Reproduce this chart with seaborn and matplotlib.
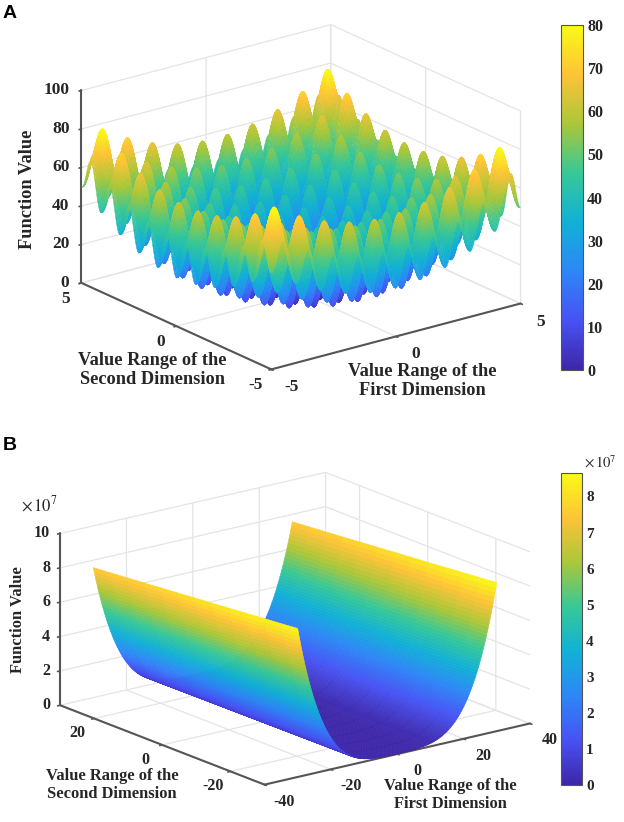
import numpy as np
import matplotlib
matplotlib.use("Agg")
import matplotlib.pyplot as plt
import seaborn as sns
from matplotlib.cm import ScalarMappable
from matplotlib.colors import Normalize
from mpl_toolkits.mplot3d import proj3d

DPI = 100
W, H = 624, 822

# ------------------------------
# panel A: bowl profile along one dimension, x = 0, 0.05, ... 5 (mirrored for x < 0)
A_PROFILE = [
    0, 0.49, 1.92, 4.14, 6.95, 10.06, 13.18, 16.00, 18.25, 19.71,
    20.25, 19.81, 18.45, 16.30, 13.58, 10.56, 7.55, 4.84, 2.72, 1.39,
    1, 1.59, 3.12, 5.44, 8.35, 11.56, 14.78, 17.70, 20.05, 21.61,
    22.25, 21.91, 20.65, 18.60, 15.98, 13.06, 10.15, 7.54, 5.52, 4.29,
    4, 4.69, 6.32, 8.74, 11.75, 15.06, 18.38, 21.40, 23.85, 25.51,
    26.25, 26.01, 24.85, 22.90, 20.38, 17.56, 14.75, 12.24, 10.32, 9.19,
    9, 9.79, 11.52, 14.04, 17.15, 20.56, 23.98, 27.10, 29.65, 31.41,
    32.25, 32.11, 31.05, 29.20, 26.78, 24.06, 21.35, 18.94, 17.12, 16.09,
    16, 16.89, 18.72, 21.34, 24.55, 28.06, 31.58, 34.80, 37.45, 39.31,
    40.25, 40.21, 39.25, 37.50, 35.18, 32.56, 29.95, 27.64, 25.92, 24.99,
    25,
]
A_X_TICKS = [-5, 0, 5]
A_Y_TICKS = [-5, 0, 5]
A_Z_TICKS = [0, 20, 40, 60, 80, 100]
A_CBAR_TICKS = [0, 10, 20, 30, 40, 50, 60, 70, 80]

# panel B: trough height (x 1e7) at the front edge, mirrored for x < 0
# x = 0, 0.5, ... 9.5
B_PROFILE_LOW = [
    0.009, 0.009, 0.010, 0.010, 0.012, 0.013, 0.015, 0.018, 0.021, 0.025,
    0.030, 0.036, 0.044, 0.052, 0.062, 0.074, 0.088, 0.105, 0.123, 0.145,
]
# x = 10, 10.25, ... 30
B_PROFILE_HIGH = [
    0.169, 0.182, 0.197, 0.212, 0.228, 0.245, 0.263, 0.283, 0.303, 0.324,
    0.347, 0.371, 0.396, 0.423, 0.451, 0.480, 0.511, 0.543, 0.577, 0.613,
    0.650, 0.689, 0.730, 0.773, 0.818, 0.865, 0.914, 0.965, 1.018, 1.073,
    1.131, 1.191, 1.253, 1.318, 1.386, 1.456, 1.529, 1.605, 1.683, 1.765,
    1.849, 1.937, 2.027, 2.121, 2.218, 2.319, 2.423, 2.531, 2.642, 2.757,
    2.876, 2.998, 3.125, 3.255, 3.390, 3.529, 3.672, 3.820, 3.972, 4.129,
    4.290, 4.456, 4.627, 4.803, 4.984, 5.171, 5.362, 5.559, 5.761, 5.969,
    6.182, 6.401, 6.626, 6.857, 7.094, 7.337, 7.586, 7.842, 8.105, 8.373,
    8.649,
]
# how far the trough height drops going back, y = -30, -25, ... 30
B_Y_VALUES = [-30, -25, -20, -15, -10, -5, 0, 5, 10, 15, 20, 25, 30]
B_TILT = [1.0, 0.989, 0.979, 0.968, 0.957, 0.947, 0.937, 0.926, 0.916, 0.905, 0.895, 0.885, 0.875]
B_X_TICKS = [-40, -20, 0, 20, 40]
B_Y_TICKS = [-20, 0, 20]
B_Z_TICKS = [0, 2, 4, 6, 8, 10]
B_CBAR_TICKS = [0, 1, 2, 3, 4, 5, 6, 7, 8]

PARULA = ["#3e26a8", "#4752f4", "#2d87f7", "#11b1d6", "#37c897", "#abc739", "#fec338", "#f9fb15"]
AXIS_GREY = "#555555"
GRID_GREY = "#e4e4e4"
TEXT = "#262626"
SERIF = "Liberation Serif"

sns.set_theme(style="white")
plt.rcParams["font.family"] = [SERIF, "DejaVu Serif"]
plt.rcParams["mathtext.fontset"] = "stix"
cmap = sns.blend_palette(PARULA, n_colors=256, as_cmap=True)


def fig_text(fig, px, py, s, **kw):
    kw.setdefault("ha", "center")
    kw.setdefault("va", "center")
    kw.setdefault("color", TEXT)
    kw.setdefault("fontweight", "bold")
    fig.text(px / W, 1 - py / H, s, **kw)


def add_scene(fig, size, center, elev, azim, box):
    # square 3d axes; the view centre sits 0.5135 of the way across them
    left = center[0] - 0.5135 * size
    bottom = H - (center[1] + 0.5135 * size)
    ax = fig.add_axes([left / W, bottom / H, size / W, size / H], projection="3d", proj_type="ortho")
    ax.view_init(elev=elev, azim=azim)
    ax.set_box_aspect(box)
    ax.patch.set_alpha(0)
    return ax


def style_axes(ax, xlim, ylim, zlim, xticks, yticks, zticks):
    ax.set_xlim(*xlim)
    ax.set_ylim(*ylim)
    ax.set_zlim(*zlim)
    ax.set_xticks(xticks)
    ax.set_yticks(yticks)
    ax.set_zticks(zticks)
    ax.set_xticklabels([])
    ax.set_yticklabels([])
    ax.set_zticklabels([])
    for axis in (ax.xaxis, ax.yaxis, ax.zaxis):
        axis.set_pane_color((1, 1, 1, 1))
        axis.pane.set_edgecolor("none")
        axis.line.set_color(AXIS_GREY)
        axis.line.set_linewidth(1.5)
        axis._axinfo["grid"].update(color=GRID_GREY, linewidth=0.9)
        axis._axinfo["tick"].update(inward_factor=0.12, outward_factor=0.0, linewidth={True: 1.2, False: 0.5})
    ax.tick_params(colors=AXIS_GREY)


def tick_labels(ax, points, labels, dx, dy, size, ha="center"):
    proj = ax.get_proj()
    for (x, y, z), label in zip(points, labels):
        xp, yp, _ = proj3d.proj_transform(x, y, z, proj)
        ax.annotate(str(label), (xp, yp), xytext=(dx, dy), textcoords="offset pixels",
                    ha=ha, va="center", fontsize=size, fontweight="bold", color=TEXT,
                    annotation_clip=False)


def add_colorbar(fig, px_left, px_top, px_w, px_h, vmax, ticks, size, pad):
    cax = fig.add_axes([px_left / W, 1 - (px_top + px_h) / H, px_w / W, px_h / H])
    cb = fig.colorbar(ScalarMappable(Normalize(0, vmax), cmap), cax=cax)
    cb.set_ticks(ticks)
    cb.ax.tick_params(direction="in", length=2, width=0.7, color=AXIS_GREY, pad=pad,
                      labelsize=size, labelcolor=TEXT)
    for label in cb.ax.get_yticklabels():
        label.set_fontweight("bold")
    cb.outline.set_edgecolor(AXIS_GREY)
    cb.outline.set_linewidth(0.8)
    return cb


fig = plt.figure(figsize=(W / DPI, H / DPI), dpi=DPI)

# ---- panel A
half_a = np.array(A_PROFILE)
prof_a = np.concatenate([half_a[:0:-1], half_a])
grid_a = np.arange(-100, 101) / 20
xa, ya = np.meshgrid(grid_a, grid_a)
za = np.add.outer(prof_a, prof_a)

ax_a = add_scene(fig, 474, (301, 197), 20.3, -127.3, (313, 313, 205))
surf_a = ax_a.plot_surface(xa, ya, za, cmap=cmap, vmin=0, vmax=80, rstride=1, cstride=1,
                           linewidth=0.3, antialiased=True, shade=False)
surf_a.set_edgecolor("face")
style_axes(ax_a, (-5, 5), (-5, 5), (0, 100), A_X_TICKS, A_Y_TICKS, A_Z_TICKS)
tick_labels(ax_a, [(v, -5, 0) for v in A_X_TICKS], A_X_TICKS, 20, -18, 12.5)
tick_labels(ax_a, [(-5, v, 0) for v in A_Y_TICKS], A_Y_TICKS, -16, -16, 12.5)
tick_labels(ax_a, [(-5, 5, v) for v in A_Z_TICKS], A_Z_TICKS, -12, 0, 12.5, ha="right")

add_colorbar(fig, 561, 25, 22, 345, 80, A_CBAR_TICKS, 11.5, 3)
fig_text(fig, 152, 370, "Value Range of the\nSecond Dimension", fontsize=13.2, linespacing=1.16)
fig_text(fig, 422, 381, "Value Range of the\nFirst Dimension", fontsize=13.2, linespacing=1.16)
fig_text(fig, 28, 189, "Function Value", fontsize=13.2, rotation=90)
fig_text(fig, 10, 14, "A", fontsize=14, family="Liberation Sans", color="black")

# ---- panel B
half_b = np.array(B_PROFILE_LOW + B_PROFILE_HIGH)
prof_b = np.concatenate([half_b[:0:-1], half_b])
half_x = np.concatenate([np.arange(20) / 2, 10 + np.arange(81) / 4])
grid_b = np.concatenate([-half_x[:0:-1], half_x])
xb, yb = np.meshgrid(grid_b, np.array(B_Y_VALUES))
zb = np.outer(B_TILT, prof_b)

ax_b = add_scene(fig, 492, (295, 628.5), 17.4, -127.6, (335, 335, 180))
surf_b = ax_b.plot_surface(xb, yb, zb, cmap=cmap, vmin=0, vmax=8.65, rstride=1, cstride=1,
                           linewidth=0.4, antialiased=True, shade=False)
surf_b.set_edgecolor("face")
style_axes(ax_b, (-40, 40), (-30, 30), (0, 10), B_X_TICKS, B_Y_TICKS, B_Z_TICKS)
tick_labels(ax_b, [(v, -30, 0) for v in B_X_TICKS], B_X_TICKS, 20, -17, 11.5)
tick_labels(ax_b, [(-40, v, 0) for v in B_Y_TICKS], B_Y_TICKS, -17, -15, 11.5)
tick_labels(ax_b, [(-40, 30, v) for v in B_Z_TICKS], B_Z_TICKS, -10, 0, 11.5, ha="right")

add_colorbar(fig, 561, 473, 21, 312, 8.65, B_CBAR_TICKS, 11, 3)
fig_text(fig, 112, 785, "Value Range of the\nSecond Dimension", fontsize=11.9, linespacing=1.15)
fig_text(fig, 450, 795, "Value Range of the\nFirst Dimension", fontsize=11.9, linespacing=1.15)
fig_text(fig, 18, 620, "Function Value", fontsize=11.9, rotation=90)
fig_text(fig, 39, 505, r"$\times\,10^{7}$", fontsize=12, fontweight="normal")
fig_text(fig, 600, 462, r"$\times\,10^{7}$", fontsize=10.5, fontweight="normal")
fig_text(fig, 10, 445, "B", fontsize=14, family="Liberation Sans", color="black")

fig.savefig("out.png", dpi=DPI)
